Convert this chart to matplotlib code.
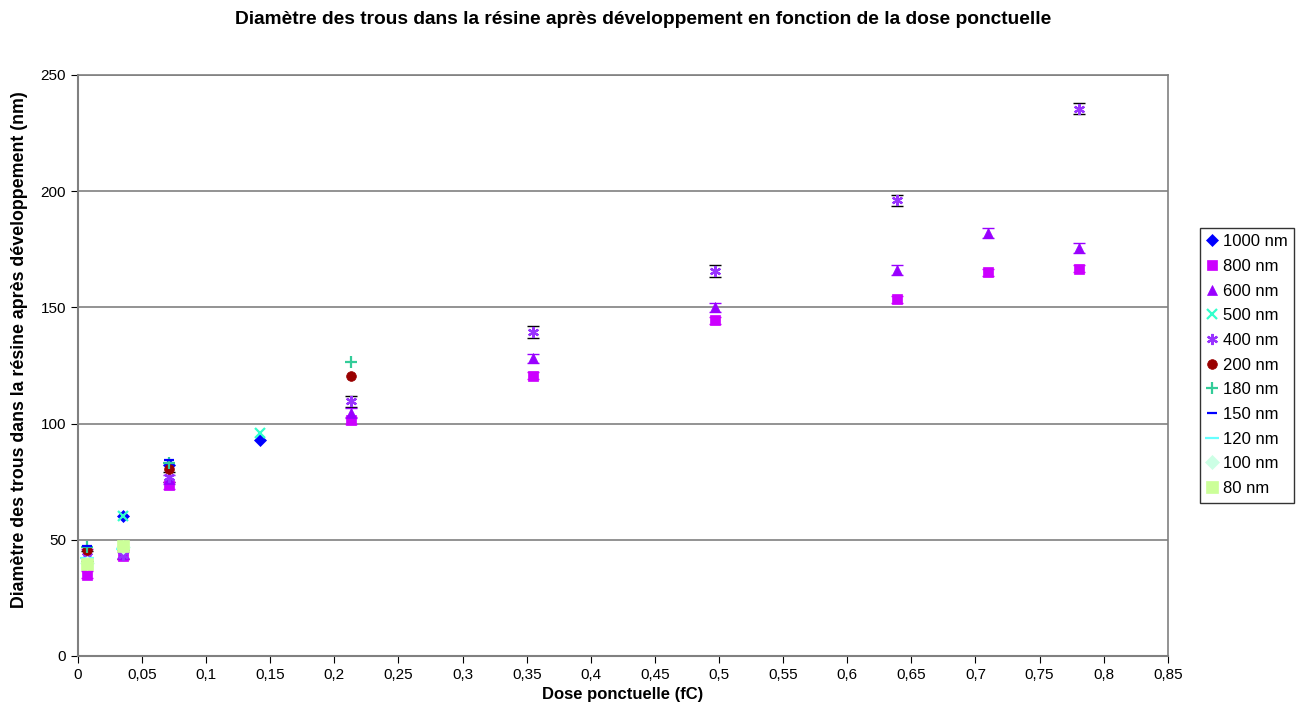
"""Diamètre des trous vs dose ponctuelle (recreated chart)."""

import matplotlib

matplotlib.use("Agg")
import matplotlib.pyplot as plt
from matplotlib.ticker import FuncFormatter

plt.rcParams["font.family"] = ["Liberation Sans", "DejaVu Sans"]

# doses (fC) and measured diameters (nm) per pattern size
DOSE_1000 = [0.0355, 0.071, 0.142]
DIAM_1000 = [60, 82, 93]

DOSE_800 = [0.0071, 0.0355, 0.071, 0.213, 0.355, 0.497, 0.639, 0.710, 0.781]
DIAM_800 = [35, 43, 73.5, 101.5, 120.5, 144.5, 153.5, 165, 166.5]
ERR_800 = [1.5, 1.5, 1.5, 1.5, 1.5, 1.5, 1.5, 1.5, 1.5]

DOSE_600 = [0.0071, 0.0355, 0.071, 0.213, 0.355, 0.497, 0.639, 0.710, 0.781]
DIAM_600 = [44, 44, 76, 104.5, 128, 150, 166, 182, 175.5]
ERR_600 = [2, 2, 2, 2, 2, 2, 2, 2, 2]

DOSE_500 = [0.0355, 0.142]
DIAM_500 = [60, 96]

DOSE_400 = [0.0071, 0.0355, 0.071, 0.213, 0.355, 0.497, 0.639, 0.781]
DIAM_400 = [43, 43.5, 77, 109.5, 139.5, 165.5, 196, 235.5]
ERR_400 = [2, 2, 2, 2.5, 2.5, 2.5, 2.5, 2.5]

DOSE_200 = [0.0071, 0.071, 0.213]
DIAM_200 = [45.5, 80.5, 120.5]

DOSE_180 = [0.0071, 0.071, 0.213]
DIAM_180 = [47, 83, 126.5]

DOSE_150 = [0.0071, 0.071]
DIAM_150 = [47.5, 84.5]

DOSE_120 = [0.0071, 0.0355]
DIAM_120 = [42, 46]

DOSE_100 = [0.0071, 0.0355]
DIAM_100 = [40, 47]

DOSE_80 = [0.0071, 0.0355]
DIAM_80 = [39.5, 47.5]

X_TICKS = [i * 0.05 for i in range(18)]
Y_TICKS = [0, 50, 100, 150, 200, 250]


def main():
    fig = plt.figure(figsize=(12.99, 7.2), dpi=100)
    ax = fig.add_axes([0.060, 0.089, 0.839, 0.807])

    ax.errorbar(DOSE_400, DIAM_400, yerr=ERR_400, fmt="none", ecolor="black",
                elinewidth=1, capsize=4, zorder=2)
    ax.errorbar(DOSE_600, DIAM_600, yerr=ERR_600, fmt="none", ecolor="#9900FF",
                elinewidth=1, capsize=4, zorder=2)
    ax.errorbar(DOSE_800, DIAM_800, yerr=ERR_800, fmt="none", ecolor="#CC00FF",
                elinewidth=1, capsize=4, zorder=2)

    series = [
        (DOSE_1000, DIAM_1000, "1000 nm", "D", "#0000FF", 6),
        (DOSE_800, DIAM_800, "800 nm", "s", "#CC00FF", 7),
        (DOSE_600, DIAM_600, "600 nm", "^", "#9900FF", 7),
        (DOSE_500, DIAM_500, "500 nm", "x", "#33FFCC", 7),
        (DOSE_400, DIAM_400, "400 nm", (6, 2, 0), "#9933FF", 8),
        (DOSE_200, DIAM_200, "200 nm", "o", "#990000", 7),
        (DOSE_180, DIAM_180, "180 nm", "+", "#33CC99", 8),
        (DOSE_150, DIAM_150, "150 nm", "_", "#0000FF", 7),
        (DOSE_120, DIAM_120, "120 nm", "_", "#66FFFF", 10),
        (DOSE_100, DIAM_100, "100 nm", "D", "#CCFFE5", 7),
        (DOSE_80, DIAM_80, "80 nm", "s", "#CCFF99", 8),
    ]
    for xs, ys, label, marker, color, size in series:
        thin = marker in ("x", "+", "_", (6, 2, 0))
        ax.plot(xs, ys, linestyle="none", marker=marker, color=color,
                markersize=size, markeredgewidth=1.6 if thin else 0.5,
                label=label, zorder=3)

    ax.set_xlim(0, 0.85)
    ax.set_ylim(0, 250)
    ax.set_xticks(X_TICKS)
    ax.set_yticks(Y_TICKS)
    ax.xaxis.set_major_formatter(
        FuncFormatter(lambda v, _: ("%g" % round(v, 2)).replace(".", ",")))
    ax.tick_params(direction="out", length=5, labelsize=11, color="black")
    ax.yaxis.grid(True, color="#808080", linewidth=1.2)
    ax.set_axisbelow(True)
    for side in ("top", "right"):
        ax.spines[side].set_color("#808080")
        ax.spines[side].set_linewidth(1.2)
    for side in ("left", "bottom"):
        ax.spines[side].set_color("#808080")
        ax.spines[side].set_linewidth(1.5)

    ax.set_xlabel("Dose ponctuelle (fC)", fontsize=12, fontweight="bold", labelpad=4)
    ax.set_ylabel("Diamètre des trous dans la résine après développement (nm)",
                  fontsize=12.8, fontweight="bold")
    ax.yaxis.set_label_coords(-0.046, 0.527)
    fig.suptitle("Diamètre des trous dans la résine après développement en fonction de la dose ponctuelle",
                 x=0.495, y=0.985, fontsize=13.8, fontweight="bold")

    handles, labels = ax.get_legend_handles_labels()
    leg = fig.legend(handles, labels, loc="center left", bbox_to_anchor=(0.924, 0.493),
                     frameon=True, fancybox=False, edgecolor="black", fontsize=12,
                     handlelength=0.6, handletextpad=0.35, borderpad=0.4,
                     borderaxespad=0, labelspacing=0.58, markerscale=1.0)
    leg.get_frame().set_linewidth(1)

    fig.savefig("out.png", dpi=100)


if __name__ == "__main__":
    main()
